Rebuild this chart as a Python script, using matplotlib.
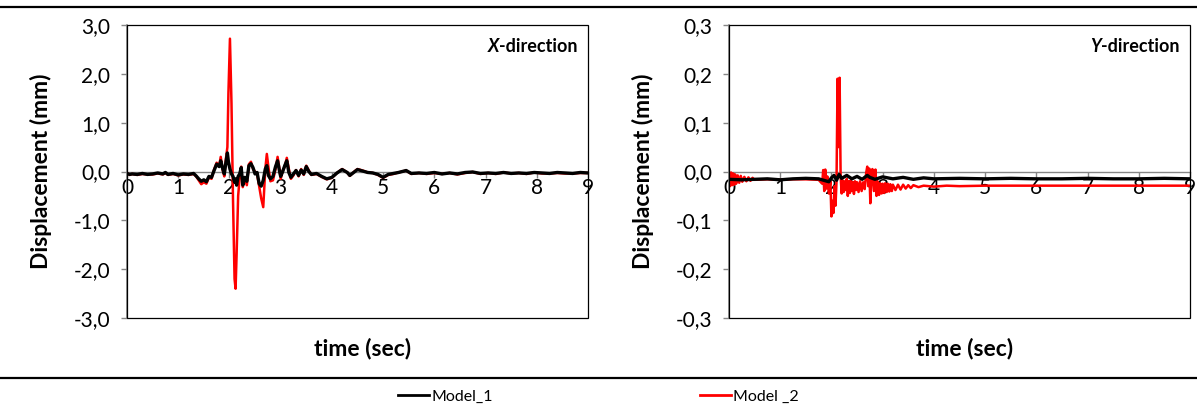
import matplotlib
matplotlib.use("Agg")
import matplotlib.pyplot as plt
from matplotlib.lines import Line2D
from matplotlib.patches import Rectangle
from matplotlib.ticker import FuncFormatter, MultipleLocator

plt.rcParams["font.family"] = ["Lato", "DejaVu Sans"]

# ---- X-direction (left panel) ----
t_x = [0.00, 0.05, 0.10, 0.20, 0.30, 0.40, 0.50, 0.60, 0.70, 0.75, 0.80, 0.90,
       1.00, 1.10, 1.20, 1.30, 1.35, 1.40, 1.45, 1.50, 1.55, 1.60, 1.65, 1.70,
       1.75, 1.80, 1.83, 1.87, 1.90, 1.93, 1.96, 1.98, 2.01, 2.04, 2.07, 2.10,
       2.12, 2.14, 2.17, 2.20, 2.23, 2.26, 2.30, 2.34, 2.38, 2.42, 2.46, 2.50,
       2.54, 2.58, 2.62, 2.66, 2.70, 2.73, 2.76, 2.80, 2.85, 2.90, 2.94, 2.97,
       3.00, 3.04, 3.08, 3.12, 3.16, 3.20, 3.25, 3.30, 3.35, 3.40, 3.45, 3.50,
       3.55, 3.60, 3.70, 3.80, 3.90, 4.00, 4.10, 4.20, 4.30, 4.35, 4.45, 4.50,
       4.60, 4.70, 4.80, 4.90, 5.00, 5.10, 5.20, 5.30, 5.45, 5.55, 5.70, 5.85,
       6.00, 6.15, 6.30, 6.45, 6.60, 6.75, 6.90, 7.05, 7.20, 7.35, 7.50, 7.65,
       7.80, 7.95, 8.10, 8.25, 8.40, 8.55, 8.70, 8.85, 9.00]
model1_x = [-0.04, -0.06, -0.05, -0.06, -0.04, -0.06, -0.05, -0.03, -0.05, -0.02, -0.06, -0.04,
            -0.07, -0.05, -0.06, -0.04, -0.09, -0.15, -0.20, -0.17, -0.21, -0.10, -0.12, 0.02,
            0.15, 0.10, 0.22, 0.05, -0.05, 0.18, 0.38, 0.20, 0.05, -0.05, -0.10, -0.22,
            -0.15, -0.28, -0.10, -0.05, 0.08, -0.28, -0.12, -0.20, 0.12, 0.16, 0.08, -0.05,
            -0.02, -0.25, -0.30, -0.18, 0.05, 0.12, -0.08, -0.15, -0.10, 0.10, 0.22, 0.05,
            -0.10, 0.00, 0.12, 0.22, -0.02, -0.12, -0.05, 0.02, -0.08, 0.03, -0.05, 0.10,
            0.00, -0.06, -0.04, -0.10, -0.15, -0.12, -0.03, 0.04, -0.02, -0.08, 0.00, 0.04,
            0.01, -0.02, -0.03, -0.06, -0.12, -0.06, -0.04, -0.02, 0.02, -0.04, -0.03, -0.04,
            -0.02, -0.05, -0.03, -0.05, -0.02, -0.01, -0.04, -0.03, -0.04, -0.02, -0.04, -0.03,
            -0.04, -0.02, -0.03, -0.04, -0.02, -0.03, -0.04, -0.02, -0.03]
model2_x = [-0.03, -0.07, -0.05, -0.07, -0.05, -0.06, -0.06, -0.04, -0.06, -0.03, -0.07, -0.05,
            -0.08, -0.06, -0.07, -0.05, -0.10, -0.18, -0.26, -0.22, -0.25, -0.12, -0.15, 0.04,
            0.18, 0.12, 0.30, 0.02, -0.10, 0.25, 0.50, 1.60, 2.72, 1.40, -0.60, -2.20,
            -2.40, -1.70, -0.50, -0.12, 0.10, -0.32, -0.15, -0.28, 0.15, 0.20, 0.05, 0.00,
            -0.05, -0.30, -0.55, -0.73, 0.05, 0.36, 0.10, -0.20, -0.18, 0.05, 0.30, 0.10,
            -0.15, 0.02, 0.10, 0.28, 0.05, -0.15, -0.08, 0.03, -0.10, 0.05, -0.07, 0.12,
            0.02, -0.07, -0.05, -0.11, -0.16, -0.13, -0.03, 0.05, -0.02, -0.09, 0.01, 0.05,
            0.02, -0.02, -0.03, -0.07, -0.13, -0.07, -0.05, -0.02, 0.02, -0.05, -0.03, -0.05,
            -0.03, -0.05, -0.03, -0.06, -0.03, -0.01, -0.05, -0.03, -0.05, -0.02, -0.04, -0.03,
            -0.05, -0.02, -0.04, -0.04, -0.03, -0.04, -0.04, -0.03, -0.03]

# ---- Y-direction (right panel) ----
t_y1 = [0.00, 0.25, 0.50, 0.75, 1.00, 1.25, 1.50, 1.75, 1.85, 1.95, 2.00, 2.05,
        2.10, 2.15, 2.20, 2.30, 2.40, 2.50, 2.60, 2.70, 2.75, 2.85, 3.00, 3.20,
        3.40, 3.60, 3.80, 4.00, 4.50, 5.00, 5.50, 6.00, 6.50, 7.00, 7.50, 8.00,
        8.50, 9.00]
model1_y = [-0.016, -0.017, -0.016, -0.015, -0.017, -0.015, -0.014, -0.015, -0.018, -0.021, -0.013, -0.008,
            -0.018, -0.006, -0.014, -0.008, -0.015, -0.010, -0.016, -0.008, -0.012, -0.016, -0.011, -0.015,
            -0.012, -0.016, -0.013, -0.015, -0.014, -0.015, -0.014, -0.015, -0.015, -0.014, -0.015, -0.015,
            -0.014, -0.015]
t_y2 = [0.00, 0.02, 0.04, 0.06, 0.08, 0.10, 0.12, 0.14, 0.17, 0.20, 0.23, 0.26,
        0.30, 0.34, 0.38, 0.42, 0.46, 0.50, 0.75, 1.00, 1.25, 1.50, 1.75, 1.82,
        1.84, 1.86, 1.88, 1.90, 1.92, 1.95, 1.98, 2.00, 2.02, 2.04, 2.06, 2.08,
        2.10, 2.12, 2.14, 2.16, 2.18, 2.20, 2.22, 2.24, 2.26, 2.28, 2.30, 2.32,
        2.34, 2.36, 2.38, 2.40, 2.42, 2.44, 2.46, 2.48, 2.50, 2.53, 2.56, 2.59,
        2.62, 2.65, 2.68, 2.70, 2.72, 2.74, 2.76, 2.78, 2.80, 2.83, 2.86, 2.88,
        2.90, 2.93, 2.95, 2.98, 3.00, 3.03, 3.05, 3.08, 3.10, 3.13, 3.15, 3.18,
        3.20, 3.25, 3.30, 3.35, 3.40, 3.45, 3.50, 3.55, 3.60, 3.70, 3.80, 4.00,
        4.25, 4.50, 5.00, 5.50, 6.00, 6.50, 7.00, 7.50, 8.00, 8.50, 9.00]
model2_y = [-0.005, -0.030, -0.002, -0.028, -0.004, -0.027, -0.006, -0.025, -0.008, -0.023, -0.009, -0.021,
            -0.011, -0.020, -0.012, -0.019, -0.013, -0.017, -0.016, -0.017, -0.016, -0.016, -0.017, -0.025,
            0.003, -0.040, 0.004, -0.035, -0.010, -0.045, -0.020, -0.092, -0.060, -0.085, -0.030, -0.070,
            -0.020, 0.190, 0.050, 0.192, -0.010, -0.045, -0.018, -0.042, -0.020, -0.038, -0.015, -0.050,
            -0.020, -0.044, -0.018, -0.040, -0.022, -0.046, -0.020, -0.038, -0.022, -0.042, -0.020, -0.040,
            -0.022, -0.036, -0.002, 0.010, -0.030, 0.006, -0.065, -0.010, 0.005, -0.040, 0.004, -0.050,
            -0.020, -0.048, -0.024, -0.045, -0.025, -0.044, -0.024, -0.042, -0.025, -0.041, -0.026, -0.040,
            -0.027, -0.038, -0.027, -0.037, -0.027, -0.035, -0.028, -0.034, -0.028, -0.032, -0.029, -0.031,
            -0.029, -0.030, -0.029, -0.029, -0.029, -0.029, -0.029, -0.029, -0.029, -0.029, -0.029]

x_ticks = [0, 1, 2, 3, 4, 5, 6, 7, 8, 9]

GRAY = "#868686"


def comma_fmt(v, pos):
    s = f"{v:.1f}"
    if s == "-0.0":
        s = "0.0"
    return s.replace(".", ",")


def style_axes(ax, ylim, ystep, direction):
    ax.set_xlim(0, 9)
    ax.set_ylim(*ylim)
    ax.set_xticks(x_ticks)
    ax.yaxis.set_major_locator(MultipleLocator(ystep))
    ax.yaxis.set_major_formatter(FuncFormatter(comma_fmt))
    for side in ("top", "right"):
        ax.spines[side].set_visible(False)
    ax.spines["left"].set_color(GRAY)
    ax.spines["left"].set_linewidth(1.2)
    ax.spines["bottom"].set_position(("data", 0))
    ax.spines["bottom"].set_color(GRAY)
    ax.spines["bottom"].set_linewidth(1.0)
    ax.spines["bottom"].set_zorder(1)
    ax.tick_params(axis="y", direction="out", length=4, width=1, color=GRAY,
                   pad=8, labelsize=15, labelcolor="black")
    ax.tick_params(axis="x", direction="out", length=4, width=1, color=GRAY,
                   pad=1, labelsize=15, labelcolor="black")
    ax.add_patch(Rectangle((0, 0), 1, 1, transform=ax.transAxes, fill=False,
                           ec="black", lw=0.9, zorder=4, clip_on=False))
    ax.set_ylabel("Displacement (mm)", fontsize=16.5, fontweight="bold")
    ax.yaxis.set_label_coords(-0.163, 0.5)
    ax.set_xlabel("time (sec)", fontsize=16.5, fontweight="bold")
    ax.xaxis.set_label_coords(0.51, -0.068)
    t2 = ax.text(0.978, 0.925, "-direction", transform=ax.transAxes, fontsize=13,
                 fontweight="bold", ha="right", va="center")
    ax.annotate(direction, xy=(0, 0), xycoords=t2, ha="right", va="bottom",
                fontsize=13, fontweight="bold", fontstyle="italic")


fig = plt.figure(figsize=(11.97, 4.08), dpi=100)
ax1 = fig.add_axes([0.1061, 0.2206, 0.3851, 0.7181])
ax2 = fig.add_axes([0.6090, 0.2206, 0.3851, 0.7181])

ax1.plot(t_x, model2_x, color="#ff0000", lw=1.8, zorder=2)
ax1.plot(t_x, model1_x, color="black", lw=2.4, zorder=3)
style_axes(ax1, (-3, 3), 1.0, "X")

ax2.plot(t_y2, model2_y, color="#ff0000", lw=1.8, zorder=2)
ax2.plot(t_y1, model1_y, color="black", lw=2.4, zorder=3)
style_axes(ax2, (-0.3, 0.3), 0.1, "Y")

# horizontal rules above and below
fig.add_artist(Line2D([0, 1], [0.983, 0.983], color="black", lw=1.6))
fig.add_artist(Line2D([0, 1], [0.0735, 0.0735], color="black", lw=1.6))

handles = [Line2D([], [], color="black", lw=2), Line2D([], [], color="#ff0000", lw=2)]
fig.legend(handles, ["Model_1", "Model _2"], loc="center", bbox_to_anchor=(0.500, 0.027),
           ncol=2, frameon=False, handlelength=1.9, handletextpad=0.15,
           columnspacing=13.0, fontsize=11.5)

fig.savefig("out.png", dpi=100)
